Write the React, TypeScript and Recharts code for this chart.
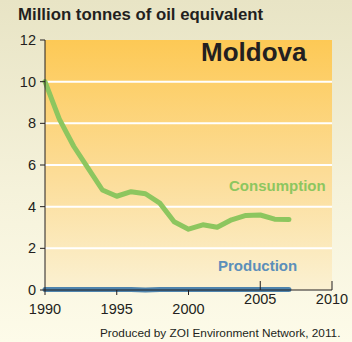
import React from "react";
import {
  LineChart,
  Line,
  XAxis,
  YAxis,
  CartesianGrid,
} from "recharts";

// Energy balance of Moldova, million tonnes of oil equivalent
const years = [
  1990, 1991, 1992, 1993, 1994, 1995, 1996, 1997, 1998, 1999, 2000, 2001,
  2002, 2003, 2004, 2005, 2006, 2007,
];
const consumption = [
  10.0, 8.2, 6.9, 5.85, 4.8, 4.5, 4.72, 4.62, 4.17, 3.28, 2.92, 3.13, 3.01,
  3.37, 3.58, 3.6, 3.4, 3.38,
];
const production = [
  0.02, 0.02, 0.02, 0.02, 0.02, 0.02, 0.02, 0.0, 0.02, 0.02, 0.02, 0.02,
  0.02, 0.02, 0.02, 0.02, 0.02, 0.02,
];
const xTicks = [1990, 1995, 2000, 2005, 2010];
const yTicks = [0, 2, 4, 6, 8, 10, 12];
const gridValues = [2, 4, 6, 8, 10];

const rows = years.map((year, i) => ({
  year,
  consumption: consumption[i],
  production: production[i],
}));

const FONT = "'Liberation Sans', Arial, Helvetica, sans-serif";
const INK = "#231f20";

// Early years hang their tick below the axis; later ones point up into the plot.
const YearTick = (props: any) => {
  const { x, y, payload } = props;
  const raised = payload.value >= 2005;
  return (
    <g>
      <line
        x1={x}
        x2={x}
        y1={y}
        y2={raised ? y - 9 : y + 5}
        stroke={INK}
        strokeWidth={1}
      />
      <text
        x={x}
        y={raised ? y + 14 : y + 24}
        textAnchor="middle"
        fontSize={14.5}
        fontFamily={FONT}
        fill={INK}
      >
        {payload.value}
      </text>
    </g>
  );
};

export default function App() {
  return (
    <div
      style={{
        position: "absolute",
        left: 0,
        top: 0,
        width: 352,
        height: 342,
        background: "linear-gradient(180deg, #e8e4c5 0%, #f6f3dc 60%, #fdfbe9 100%)",
        fontFamily: FONT,
        overflow: "hidden",
      }}
    >
      <div
        style={{
          position: "absolute",
          left: 18,
          top: 5,
          fontSize: 16.8,
          fontWeight: "bold",
          color: INK,
          whiteSpace: "nowrap",
        }}
      >
        Million tonnes of oil equivalent
      </div>
      <LineChart
        width={352}
        height={342}
        data={rows}
        margin={{ top: 40, right: 20, bottom: 22, left: 15 }}
        style={{ position: "absolute", left: 0, top: 0 }}
      >
        <defs>
          <linearGradient id="plotFill" x1="0" y1="0" x2="0" y2="1">
            <stop offset="0%" stopColor="#fdc955" />
            <stop offset="55%" stopColor="#fcdd99" />
            <stop offset="100%" stopColor="#fbf1d2" />
          </linearGradient>
        </defs>
        <CartesianGrid
          vertical={false}
          horizontalValues={gridValues}
          stroke="#ffffff"
          strokeWidth={2}
          fill="url(#plotFill)"
          fillOpacity={1}
        />
        <XAxis
          dataKey="year"
          type="number"
          domain={[1990, 2010]}
          ticks={xTicks}
          height={30}
          tickLine={false}
          tickSize={0}
          tickMargin={0}
          axisLine={{ stroke: INK, strokeWidth: 1 }}
          tick={<YearTick />}
          interval={0}
        />
        <YAxis
          type="number"
          domain={[0, 12]}
          ticks={yTicks}
          width={30}
          tickSize={5}
          tickMargin={4}
          axisLine={{ stroke: INK, strokeWidth: 1 }}
          tickLine={{ stroke: INK, strokeWidth: 1 }}
          tick={{ fontSize: 14.5, fontFamily: FONT, fill: INK }}
          interval={0}
        />
        <Line
          dataKey="consumption"
          stroke="#8dc65f"
          strokeWidth={5}
          dot={false}
          strokeLinejoin="round"
          strokeLinecap="round"
          isAnimationActive={false}
        />
        <Line
          dataKey="production"
          stroke="#4f84ad"
          strokeWidth={5}
          dot={false}
          strokeLinejoin="round"
          strokeLinecap="round"
          isAnimationActive={false}
        />
      </LineChart>
      <div
        style={{
          position: "absolute",
          left: 201,
          top: 37,
          fontSize: 26,
          fontWeight: "bold",
          color: INK,
          whiteSpace: "nowrap",
        }}
      >
        Moldova
      </div>
      <div
        style={{
          position: "absolute",
          left: 229,
          top: 177,
          fontSize: 15,
          fontWeight: "bold",
          color: "#8dc65f",
          whiteSpace: "nowrap",
        }}
      >
        Consumption
      </div>
      <div
        style={{
          position: "absolute",
          left: 218,
          top: 257,
          fontSize: 15,
          fontWeight: "bold",
          color: "#5b8fba",
          whiteSpace: "nowrap",
        }}
      >
        Production
      </div>
      <div
        style={{
          position: "absolute",
          left: 100,
          top: 326,
          fontSize: 11.8,
          color: INK,
          whiteSpace: "nowrap",
        }}
      >
        Produced by ZOI Environment Network, 2011.
      </div>
    </div>
  );
}
